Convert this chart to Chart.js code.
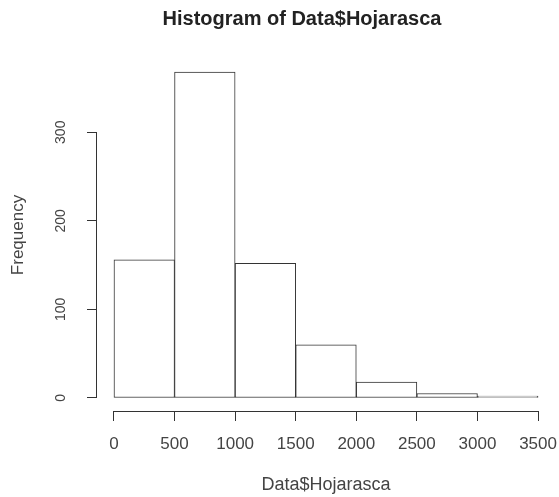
<!DOCTYPE html>
<html>
<head>
<meta charset="utf-8">
<script src="https://cdn.jsdelivr.net/npm/chart.js@4"></script>
<style>
  body { margin: 0; background: #fff; }
  canvas { display: block; }
</style>
</head>
<body>
<canvas id="histChart" width="559" height="497"></canvas>
<script>
var binStarts = [0, 500, 1000, 1500, 2000, 2500, 3000];
var binWidth = 500;
var counts = [156, 368, 152, 60, 18, 5, 2];
var xTicks = [0, 500, 1000, 1500, 2000, 2500, 3000, 3500];
var yTicks = [0, 100, 200, 300];

var points = [];
for (var i = 0; i < binStarts.length; i++) {
    points.push({x: binStarts[i] + binWidth / 2, y: counts[i]});
}

var FONT = "'Liberation Sans', Arial, sans-serif";
var LINE = '#333';

// R style: axis lines only span first to last tick, title drawn over the plot
var rAxes = {
    id: 'rAxes',
    afterDraw: function(chart) {
        var ctx = chart.ctx;
        var xs = chart.scales.x, ys = chart.scales.y;
        ctx.save();
        ctx.strokeStyle = LINE;
        ctx.lineWidth = 1;
        ctx.beginPath();
        var yy = Math.round(xs.top) + 0.5;
        ctx.moveTo(xs.getPixelForValue(xTicks[0]), yy);
        ctx.lineTo(xs.getPixelForValue(xTicks[xTicks.length - 1]), yy);
        var xx = Math.round(ys.right) - 0.5;
        ctx.moveTo(xx, ys.getPixelForValue(yTicks[0]));
        ctx.lineTo(xx, ys.getPixelForValue(yTicks[yTicks.length - 1]));
        ctx.stroke();

        ctx.fillStyle = '#222';
        ctx.font = 'bold 20px ' + FONT;
        ctx.textAlign = 'center';
        ctx.textBaseline = 'middle';
        ctx.fillText('Histogram of Data$Hojarasca', 302, 19);
        ctx.restore();
    }
};

const ctx = document.getElementById('histChart').getContext('2d');

const chart = new Chart(ctx, {
    type: 'bar',
    data: {
        datasets: [{
            label: 'Frequency',
            data: points,
            backgroundColor: '#fff',
            borderColor: LINE,
            borderWidth: 1,
            borderSkipped: false,
            barPercentage: 1,
            categoryPercentage: 1
        }]
    },
    options: {
        responsive: false,
        animation: false,
        layout: { padding: { top: 59, right: 4, left: 0, bottom: 0 } },
        plugins: {
            legend: { display: false },
            tooltip: { enabled: false },
            title: { display: false }
        },
        scales: {
            x: {
                type: 'linear',
                offset: false,
                min: -140,
                max: 3640,
                afterBuildTicks: function(scale) {
                    scale.ticks = xTicks.map(function(v) { return {value: v}; });
                },
                afterFit: function(scale) {
                    scale.height = 86;
                    scale.paddingLeft = 0;
                    scale.paddingRight = 0;
                },
                border: { display: false },
                grid: {
                    offset: false,
                    drawOnChartArea: false,
                    drawTicks: true,
                    tickLength: 10,
                    color: LINE,
                    lineWidth: 1
                },
                ticks: {
                    color: '#444',
                    font: { family: FONT, size: 17 },
                    padding: 13,
                    maxRotation: 0,
                    autoSkip: false,
                    callback: function(v) { return String(v); }
                },
                title: {
                    display: true,
                    text: 'Data$Hojarasca',
                    color: '#444',
                    font: { family: FONT, size: 18 },
                    padding: { top: 0, bottom: 1 }
                }
            },
            y: {
                min: -14.72,
                max: 382.72,
                afterBuildTicks: function(scale) {
                    scale.ticks = yTicks.map(function(v) { return {value: v}; });
                },
                afterFit: function(scale) {
                    scale.width = 97;
                    scale.paddingTop = 0;
                    scale.paddingBottom = 0;
                },
                border: { display: false },
                grid: {
                    drawOnChartArea: false,
                    drawTicks: true,
                    tickLength: 10,
                    color: LINE,
                    lineWidth: 1
                },
                ticks: {
                    color: '#444',
                    font: { family: FONT, size: 14 },
                    padding: 14,
                    minRotation: 90,
                    maxRotation: 90,
                    crossAlign: 'center',
                    autoSkip: false,
                    callback: function(v) { return String(v); }
                },
                title: {
                    display: true,
                    text: 'Frequency',
                    color: '#444',
                    font: { family: FONT, size: 17 },
                    padding: { top: 8, bottom: 0 }
                }
            }
        }
    },
    plugins: [rAxes]
});
</script>
</body>
</html>
